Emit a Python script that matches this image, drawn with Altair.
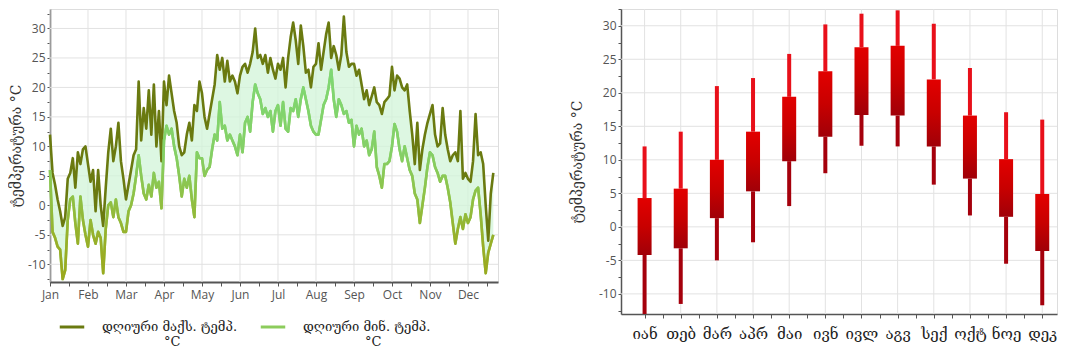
import json
import numpy as np
import pandas as pd
import altair as alt

# ---------------- data ----------------
months_en = ["Jan", "Feb", "Mar", "Apr", "May", "Jun", "Jul", "Aug", "Sep", "Oct", "Nov", "Dec"]
months_ka = ["იან", "თებ", "მარ", "აპრ", "მაი", "ივნ", "ივლ", "აგვ", "სექ", "ოქტ", "ნოე", "დეკ"]
label_max = "დღიური მაქს. ტემპ. °C"
label_min = "დღიური მინ. ტემპ. °C"
axis_title = "ტემპერატურა °C"
temp_ticks = [-10, -5, 0, 5, 10, 15, 20, 25, 30]

# daily max / min temperature, read every ~2 days
max_jan = [12, 5.5, 3.5, 1, -1, -3.5, -2, 4.5, 5.5, 8, 3, 9, 7, 9.5, 10]
min_jan = [6, -4.5, -5.5, -7, -7.5, -12.5, -11, -2.5, 1, 1.5, -3, -6.5, 1.5, -2.5, -5]
max_feb = [7, 4, 6, -1, 6, 0, -3.5, 3, 9, 13, 7.5, 10, 14, 7.5, 4.5]
min_feb = [-7, -2.5, -5, -6.5, -4.5, -5.5, -11.5, -4, 0, 0.5, -2, 1, -2, -3, -4.5]
max_mar = [1, 3.5, 6, 8.5, 9.5, 21, 11, 16.5, 13, 19.5, 12, 20.5, 10, 16, 7.5]
min_mar = [-4.5, -1, 0, 2, 5, 8.5, 5, 2, 1, 3.5, 1.5, 5.5, 3, 4, -0.5]
max_apr = [21, 17, 22, 19, 16, 14, 10, 8.5, 9, 12, 14, 11, 17, 16, 21]
min_apr = [11, 13.5, 12, 13, 10, 8, 5, 1.5, 4.5, 3, 5, 1, -2, 9, 8]
max_may = [19, 15, 13, 15.5, 18, 20.5, 25.5, 23, 25, 21, 24.5, 21, 22, 21, 19]
min_may = [8, 5, 6, 6.5, 9.5, 12, 11, 17.5, 13, 13.5, 11, 12, 11, 10, 8.5]
max_jun = [22, 23.5, 24, 22.5, 24, 26, 30, 25, 25.5, 24, 25.5, 22.5, 25, 23, 21.5]
min_jun = [12, 9, 14, 15, 12.5, 17.5, 20.5, 19, 18, 15.5, 16.5, 15, 16, 12.5, 16]
max_jul = [24, 23, 25, 20, 25, 28.5, 31, 28, 24, 30.5, 27, 22.5, 23, 20, 23.5]
min_jul = [17, 13.5, 17.5, 13, 12.5, 16.5, 16, 18, 15, 18, 20, 18, 16, 13.5, 12.5]
max_aug = [24, 27.5, 23, 26, 29, 31, 25, 27, 25.5, 23, 25.5, 32, 26, 23.5, 24]
min_aug = [12, 12, 14.5, 17, 18, 20, 23, 18, 15, 18, 17, 15.5, 16, 14, 14.5]
max_sep = [24, 22, 23, 20.5, 18, 19.5, 17, 18.5, 20, 17.5, 17, 15.5, 17.5, 18, 18.6]
min_sep = [10, 13.5, 12, 13, 10, 11, 8.5, 9.5, 12.5, 6.5, 5, 3, 7, 7, 7.5]
max_oct = [23.5, 19.5, 22, 21.5, 20, 19.5, 20.5, 16, 12, 7, 14, 6, 9.5, 12, 14]
min_oct = [10, 13.8, 12.5, 9.5, 7.5, 10, 8, 6, 5, 2, 1, -3, 0, 3, 6.5]
max_nov = [15.5, 17, 12, 10, 10.5, 16.5, 12, 9.5, 7.5, 8.5, 9, 7.5, 16, 4.5, 5.5]
min_nov = [9, 8.5, 6.5, 5.5, 4, 5, 5, 3, 0.5, -3, -6.5, -4, -2, -4, -1.5]
max_dec = [4.5, 4, 7.5, 15.5, 8.5, 9, 7, 0, -6, 2, 5.5]
min_dec = [-3, -2, 1, 2.5, 3, -1.5, -7, -11.5, -8, -6.5, -5]

daily_max = [max_jan, max_feb, max_mar, max_apr, max_may, max_jun,
             max_jul, max_aug, max_sep, max_oct, max_nov, max_dec]
daily_min = [min_jan, min_feb, min_mar, min_apr, min_may, min_jun,
             min_jul, min_aug, min_sep, min_oct, min_nov, min_dec]

# monthly candles
c_low = [-13.2, -11.5, -5, -2.3, 3.1, 8, 12.1, 12, 6.3, 1.7, -5.5, -11.7]
c_q1 = [-4.2, -3.2, 1.3, 5.3, 9.8, 13.45, 16.7, 16.6, 12, 7.2, 1.5, -3.6]
c_q3 = [4.3, 5.7, 10, 14.2, 19.4, 23.2, 26.8, 27, 22, 16.6, 10.1, 4.9]
c_high = [12, 14.2, 21, 22.2, 25.8, 30.2, 31.8, 32.3, 30.3, 23.7, 17.1, 16]

# ---------------- tables ----------------
rows = []
for m, (mx, mn) in enumerate(zip(daily_max, daily_min)):
    for j, (a, b) in enumerate(zip(mx, mn)):
        rows.append({"pos": m + j / 15.0, "tmax": a, "tmin": b})
wide = pd.DataFrame(rows)
long = wide.melt(id_vars="pos", value_vars=["tmax", "tmin"], var_name="s", value_name="temp")
long["series"] = long["s"].map({"tmax": label_max, "tmin": label_min})

cand = pd.DataFrame({"pos": list(range(12)), "month": months_ka, "low": c_low,
                     "q1": c_q1, "q3": c_q3, "high": c_high})
vgrid = pd.DataFrame({"pos": list(range(12))})
hgrid = pd.DataFrame({"temp": temp_ticks})

SANS = "Open Sans"
KA = "DejaVu Serif"
pad = "\u200b" + "\u00a0" * 15
minor_y = [float(v) for v in np.arange(-12.5, 33, 2.5)]
grid_col = "#e2e2e2"

# ---------------- left panel ----------------
xl = alt.X("pos:Q", scale=alt.Scale(domain=[0, 11.79], nice=False, zero=False),
           axis=alt.Axis(values=[float(v) for v in np.arange(0, 12, 0.5)],
                         labelExpr="datum.value % 1 == 0 ? " + json.dumps(months_en) + "[datum.value] : ''",
                         grid=False, title=None, tickSize=4, tickColor="#555", domainColor="#555",
                         domainWidth=2, labelColor="#555", labelFont=SANS, labelFontSize=12,
                         labelPadding=3, labelFlush=False))
yl_axis = alt.Axis(values=minor_y, labelExpr="datum.value % 5 == 0 ? datum.value : ''",
                   grid=False, title=axis_title, titleFont=KA, titleFontSize=14,
                   titleFontWeight="normal", titleColor="#333", titlePadding=4,
                   labelColor="#555", labelFont=SANS, labelFontSize=12, labelPadding=2,
                   tickSize=3, tickColor="#555", domainColor="#555", domainWidth=1.5)
yl_scale = alt.Scale(domain=[-13, 33.3], nice=False, zero=False)

lg_v = alt.Chart(vgrid).mark_rule(color=grid_col, strokeWidth=1).encode(x=xl)
lg_h = alt.Chart(hgrid).mark_rule(color=grid_col, strokeWidth=1).encode(
    y=alt.Y("temp:Q", scale=yl_scale, axis=yl_axis))
area = alt.Chart(wide).mark_area(color="#d2f4d8", opacity=0.75, interpolate="linear").encode(
    x=xl, y=alt.Y("tmin:Q", scale=yl_scale, axis=yl_axis), y2="tmax:Q")
lines = alt.Chart(long).mark_line(strokeWidth=2.6, strokeJoin="round").encode(
    x=xl, y=alt.Y("temp:Q", scale=yl_scale, axis=yl_axis),
    color=alt.Color("series:N",
                    scale=alt.Scale(domain=[label_max, label_min], range=["#6a7a10", "#8ccc5c"]),
                    legend=alt.Legend(title=None, orient="none", legendX=8, legendY=304,
                                      direction="horizontal", symbolType="stroke",
                                      symbolStrokeWidth=3, symbolSize=600, labelOffset=16,
                                      columnPadding=16, labelFont=KA, labelFontSize=13,
                                      labelColor="#222", labelLimit=400,
                                      labelExpr="split(replace(datum.label, ' °C', '|" + pad + "°C'), '|')")))
min_grad = alt.Gradient(gradient="linear", x1=0, x2=0, y1=0, y2=1, stops=[
    alt.GradientStop(color="#7ed874", offset=0),
    alt.GradientStop(color="#84d066", offset=0.4),
    alt.GradientStop(color="#8fc247", offset=0.6),
    alt.GradientStop(color="#98b02a", offset=0.8),
    alt.GradientStop(color="#9ba81c", offset=1)])
min_line = alt.Chart(wide).mark_line(strokeWidth=2.6, stroke=min_grad, strokeJoin="round").encode(
    x=xl, y=alt.Y("tmin:Q", scale=yl_scale, axis=yl_axis))

left = alt.layer(lg_v, lg_h, area, lines, min_line).properties(width=448, height=273)

# ---------------- right panel ----------------
xr = alt.X("pos:Q", scale=alt.Scale(domain=[-0.514, 11.27], nice=False, zero=False),
           axis=alt.Axis(values=[float(v) for v in np.arange(0, 11.6, 0.5)],
                         labelExpr="datum.value % 1 == 0 ? " + json.dumps(months_ka, ensure_ascii=False) + "[datum.value] : ''",
                         grid=False, title=None, tickSize=4, tickColor="#555", domainColor="#555",
                         domainWidth=1.5, labelColor="#222", labelFont=KA, labelFontSize=15,
                         labelPadding=8, labelFlush=False))
yr_axis = alt.Axis(values=minor_y, labelExpr="datum.value % 5 == 0 ? datum.value : ''",
                   grid=False, title=axis_title, titleFont=KA, titleFontSize=14,
                   titleFontWeight="normal", titleColor="#333", titlePadding=14,
                   labelColor="#555", labelFont=SANS, labelFontSize=12, labelPadding=2,
                   tickSize=3, tickColor="#555", domainColor="#555", domainWidth=1.5)
yr_scale = alt.Scale(domain=[-13, 32.5], nice=False, zero=False)

rg_v = alt.Chart(vgrid).mark_rule(color=grid_col, strokeWidth=1).encode(x=xr)
rg_h = alt.Chart(hgrid).mark_rule(color=grid_col, strokeWidth=1).encode(
    y=alt.Y("temp:Q", scale=yr_scale, axis=yr_axis))
wick_lo = alt.Chart(cand).mark_rule(color="#a5000c", strokeWidth=4, clip=True).encode(
    x=xr, y=alt.Y("low:Q", scale=yr_scale, axis=yr_axis), y2="q1:Q")
wick_hi = alt.Chart(cand).mark_rule(color="#e8101a", strokeWidth=4, clip=True).encode(
    x=xr, y=alt.Y("q3:Q", scale=yr_scale, axis=yr_axis), y2="high:Q")
box_grad = alt.Gradient(gradient="linear", x1=0, x2=0, y1=0, y2=1, stops=[
    alt.GradientStop(color="#e20000", offset=0),
    alt.GradientStop(color="#c80000", offset=0.5),
    alt.GradientStop(color="#a00008", offset=1)])
boxes = alt.Chart(cand).mark_bar(color=box_grad, size=14).encode(
    x=xr, y=alt.Y("q1:Q", scale=yr_scale, axis=yr_axis), y2="q3:Q")

right = alt.layer(rg_v, rg_h, wick_lo, wick_hi, boxes).properties(width=436, height=305)

chart = alt.hconcat(left, right, spacing=70).properties(
    padding={"left": 0, "top": 0, "right": 0, "bottom": 0}
).configure_view(stroke=None).configure(background="white")

chart.save("out.html", embed_options={"renderer": "svg", "actions": False})
